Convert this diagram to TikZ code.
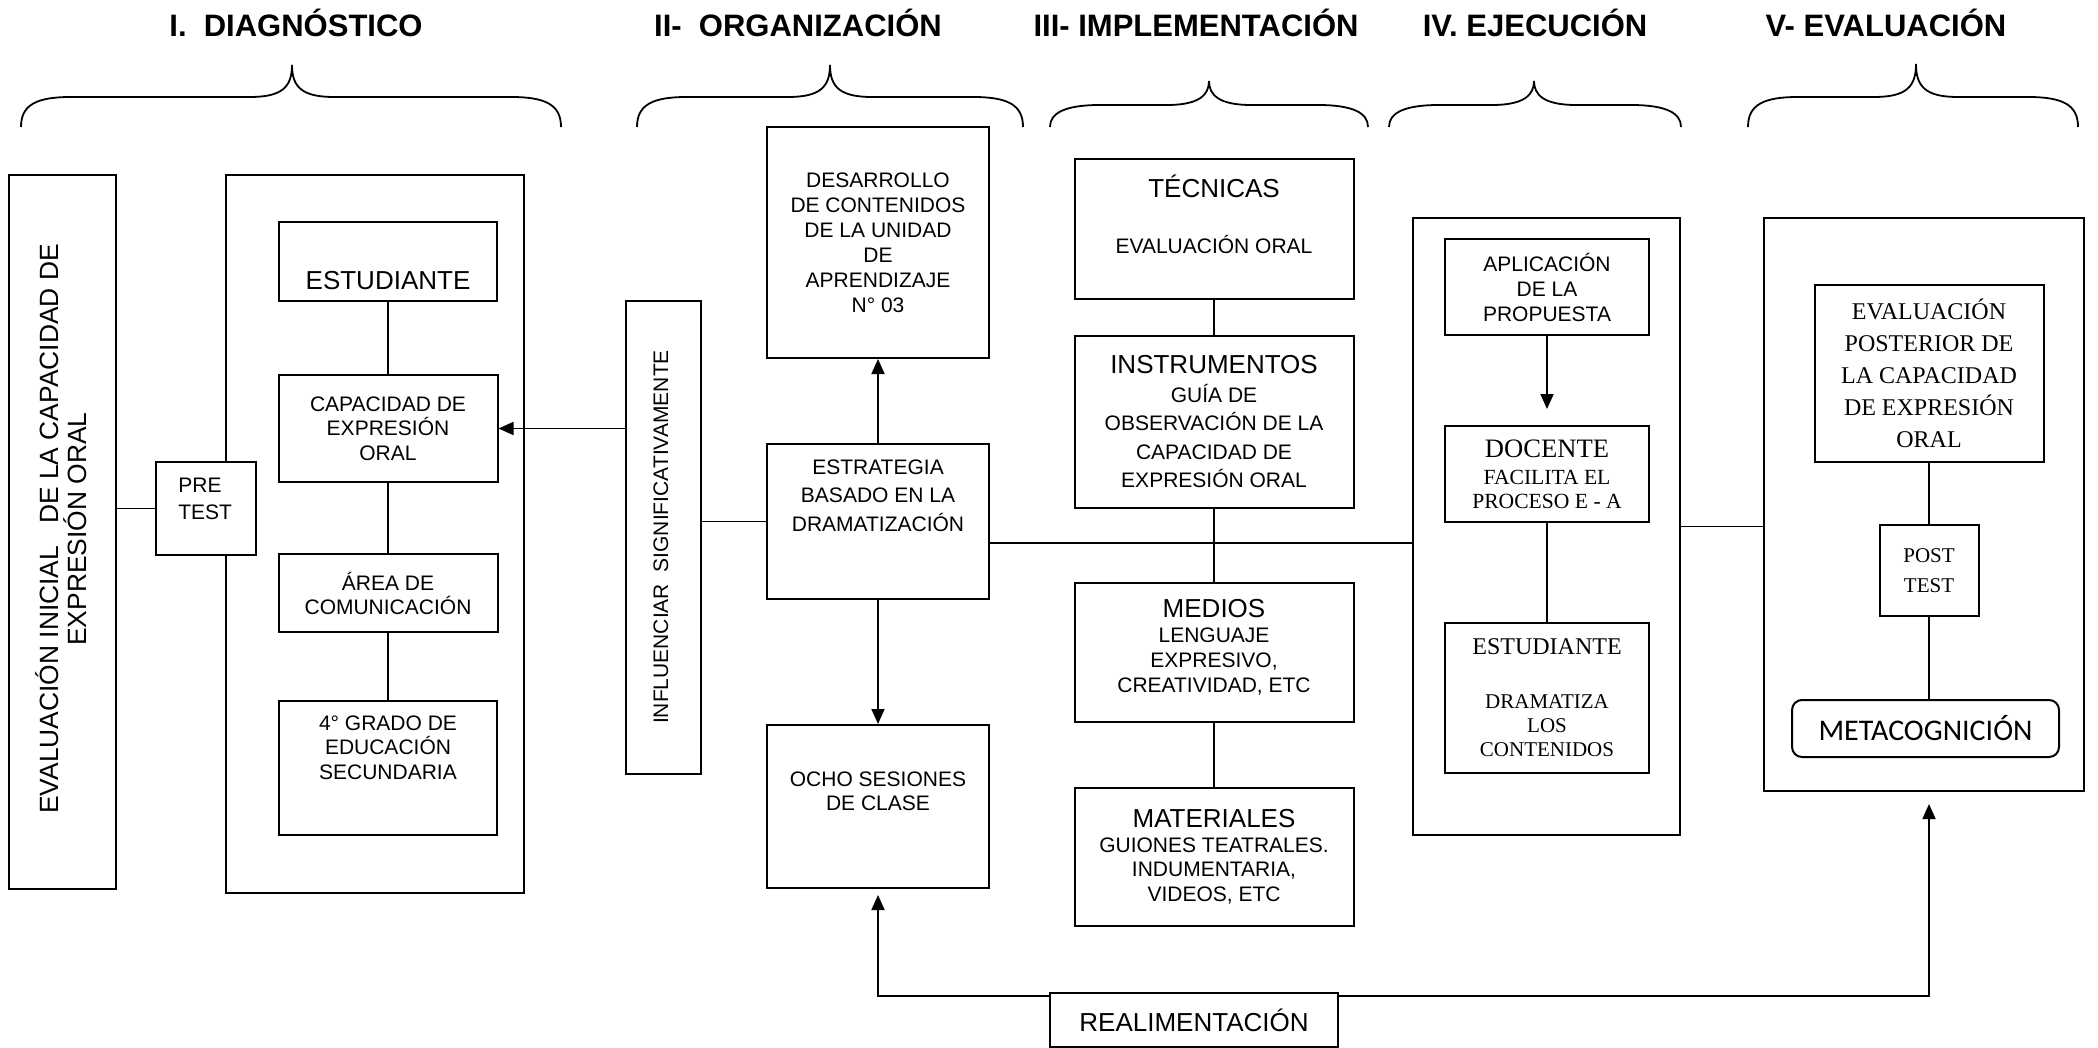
\documentclass[tikz,border=0pt]{standalone}
\usepackage{fontspec}
\setmainfont{Liberation Sans}
\newfontfamily\dgserif{Liberation Serif}
\newfontfamily\dgcalibri{Carlito}
\usetikzlibrary{arrows.meta,calc}
\tikzset{
  dgbox/.style={draw=black, line width=1pt, fill=white, inner sep=0pt, align=center, font=\fontsize{10.5}{12.5}\selectfont},
  dgtext/.style={inner sep=0pt, align=center, font=\fontsize{10.5}{12.5}\selectfont},
  dgtitle/.style={anchor=base, inner sep=0pt, font=\bfseries\fontsize{15.5}{18}\selectfont},
  dgline/.style={line width=0.9pt, draw=black},
  dgarrow/.style={line width=0.9pt, draw=black, -{Triangle[length=7.5pt,width=6.5pt]}},
  dgbrace/.style={line width=0.9pt, draw=black},
}
\newcommand{\phasebrace}[5]{%
  \draw[dgbrace] (#1,127) .. controls (#1,#5+8) and (#1+15,#5) .. (#1+50,#5)
    -- (#2-42,#5) .. controls (#2-10,#5) and (#2,#5-10) .. (#2,#4)
    .. controls (#2,#5-10) and (#2+10,#5) .. (#2+42,#5)
    -- (#3-50,#5) .. controls (#3-15,#5) and (#3,#5+8) .. (#3,127);}

\begin{document}
\begin{tikzpicture}[x=0.5pt,y=-0.5pt]
\useasboundingbox (0,0) rectangle (2098,1048);

\node[dgtitle] (tdiag) at (296,37) {I.\ \ DIAGNÓSTICO};
\node[dgtitle] (torg) at (798,37) {II-\ \ ORGANIZACIÓN};
\node[dgtitle] (timp) at (1196,37) {III- IMPLEMENTACIÓN};
\node[dgtitle] (teje) at (1535,37) {IV. EJECUCIÓN};
\node[dgtitle] (teva) at (1886,37) {V- EVALUACIÓN};

\phasebrace{21}{292}{561}{65}{97}
\phasebrace{637}{830}{1023}{65}{97}
\phasebrace{1050}{1209}{1368}{81}{105}
\phasebrace{1389}{1534}{1681}{81}{105}
\phasebrace{1748}{1916}{2078}{64}{97}

\node[dgbox, minimum width=53.5pt, minimum height=357pt] (evalini) at (62.5,532) {};
\node[dgtext, rotate=90, font=\fontsize{13.2}{14}\selectfont] (evalinit) at (61,529)
  {EVALUACIÓN INICIAL\ \ \ DE LA CAPACIDAD DE\\EXPRESIÓN ORAL};
\node[dgbox, minimum width=149pt, minimum height=359pt] (diag) at (375,534) {};
\node[dgbox, minimum width=109pt, minimum height=39.5pt] (estI) at (388,261.5) {};
\node[dgtext, font=\fontsize{13}{15}\selectfont] (estIt) at (388,281) {ESTUDIANTE};
\node[dgbox, minimum width=109.5pt, minimum height=53.5pt, font=\fontsize{10.5}{12.25}\selectfont] (capI) at (388,428.5) {CAPACIDAD DE\\EXPRESIÓN\\ORAL};
\node[dgbox, minimum width=109.5pt, minimum height=39pt, font=\fontsize{10.5}{12}\selectfont] (areaI) at (388,593) {ÁREA DE\\COMUNICACIÓN};
\node[dgbox, minimum width=109pt, minimum height=67pt] (gradoI) at (388,768) {};
\node[dgtext, font=\fontsize{10.5}{12.25}\selectfont] (gradoIt) at (388,747.5) {4° GRADO DE\\EDUCACIÓN\\SECUNDARIA};
\node[dgbox, minimum width=50pt, minimum height=46.5pt] (pretest) at (206,508.5) {};
\node[dgtext, align=left, anchor=west, font=\fontsize{10.5}{13.5}\selectfont] (pretestt) at (178,498.5) {PRE\\TEST};
\draw[dgline] (estI) -- (capI);
\draw[dgline] (capI) -- (areaI);
\draw[dgline] (areaI) -- (gradoI);
\draw[dgline] (evalini.east |- pretest.west) -- (pretest.west);

\node[dgbox, minimum width=37.5pt, minimum height=236.5pt] (influ) at (663.5,537.5) {};
\node[dgtext, rotate=90, font=\fontsize{10.5}{12}\selectfont] (influt) at (661,537) {INFLUENCIAR\ \ SIGNIFICATIVAMENTE};
\node[dgbox, minimum width=111pt, minimum height=115.5pt] (desarrollo) at (878,242.5)
  {DESARROLLO\\DE CONTENIDOS\\DE LA UNIDAD\\DE\\APRENDIZAJE\\N° 03};
\node[dgbox, minimum width=111pt, minimum height=77.5pt] (estrategia) at (878,521.5) {};
\node[dgtext, font=\fontsize{10.5}{14.25}\selectfont] (estrategiat) at (878,495.5) {ESTRATEGIA\\BASADO EN LA\\DRAMATIZACIÓN};
\node[dgbox, minimum width=111pt, minimum height=81.5pt] (ocho) at (878,806.5) {};
\node[dgtext, font=\fontsize{10.5}{12}\selectfont] (ochot) at (878,791) {OCHO SESIONES\\DE CLASE};
\draw[dgarrow] (influ.west |- capI.east) -- (capI.east);
\draw[dgline] (influ.east |- estrategia.west) -- (estrategia.west);
\draw[dgarrow] (estrategia) -- (desarrollo);
\draw[dgarrow] (estrategia) -- (ocho);

\node[dgbox, minimum width=139.5pt, minimum height=70pt] (tecnicas) at (1214,229) {};
\node[dgtext, font=\fontsize{13}{15}\selectfont] (tecnicast) at (1214,186) {TÉCNICAS};
\node[dgtext] (tecnicasd) at (1214,244) {EVALUACIÓN ORAL};
\node[dgbox, minimum width=139.5pt, minimum height=86pt, font=\fontsize{10.5}{14.25}\selectfont] (instrumentos) at (1214,422)
  {{\fontsize{13}{15}\selectfont INSTRUMENTOS}\\GUÍA DE\\OBSERVACIÓN DE LA\\CAPACIDAD DE\\EXPRESIÓN ORAL};
\node[dgbox, minimum width=139.5pt, minimum height=69.5pt] (medios) at (1214,652.5) {};
\node[dgtext] (mediost) at (1214,647)
  {{\fontsize{13}{15}\selectfont MEDIOS}\\LENGUAJE\\EXPRESIVO,\\CREATIVIDAD, ETC};
\node[dgbox, minimum width=139.5pt, minimum height=69pt, font=\fontsize{10.5}{12.25}\selectfont] (materiales) at (1214,857)
  {{\fontsize{13}{15}\selectfont MATERIALES}\\GUIONES TEATRALES.\\INDUMENTARIA,\\VIDEOS, ETC};
\draw[dgline] (tecnicas) -- (instrumentos);
\draw[dgline] (instrumentos) -- (medios);
\draw[dgline] (medios) -- (materiales);
\node[dgbox, minimum width=144pt, minimum height=27pt, font=\fontsize{13}{15}\selectfont] (realim) at (1194,1020) {REALIMENTACIÓN};

\node[dgbox, minimum width=133.5pt, minimum height=308.5pt] (ejec) at (1546.5,526.5) {};
\node[dgbox, minimum width=102pt, minimum height=48pt] (aplic) at (1547,287) {APLICACIÓN\\DE LA\\PROPUESTA};
\node[dgbox, minimum width=102pt, minimum height=48pt, font=\dgserif\fontsize{10.8}{12}\selectfont] (docente) at (1547,474)
  {{\fontsize{13.3}{15}\selectfont DOCENTE}\\[1.5pt]FACILITA EL\\PROCESO E - A};
\node[dgbox, minimum width=102pt, minimum height=75pt, font=\dgserif\fontsize{10.5}{12}\selectfont] (estII) at (1547,698)
  {{\fontsize{12}{14}\selectfont ESTUDIANTE}\\[15pt]DRAMATIZA\\LOS\\CONTENIDOS};
\draw[dgarrow, shorten >=8pt] (aplic) -- (docente);
\draw[dgline] (docente) -- (estII);
\draw[dgline] ($(estrategia.east)+(0,21.5)$) coordinate (orgout) -- (orgout -| ejec.west);

\node[dgbox, minimum width=160pt, minimum height=286.5pt] (evalbox) at (1924,504.5) {};
\node[dgbox, minimum width=114.5pt, minimum height=88.5pt, font=\dgserif\fontsize{12}{16}\selectfont] (posterior) at (1929,373.5)
  {EVALUACIÓN\\POSTERIOR DE\\LA CAPACIDAD\\DE EXPRESIÓN\\ORAL};
\node[dgbox, minimum width=49.5pt, minimum height=45.5pt, font=\dgserif\fontsize{10.5}{15}\selectfont] (posttest) at (1929,570.5) {POST\\TEST};
\node[dgbox, rounded corners=5pt, minimum width=133.5pt, minimum height=28.5pt, font=\dgcalibri\fontsize{15}{18}\selectfont] (metacog) at (1925.5,728.5) {METACOGNICIÓN};
\draw[dgline] (ejec.east) -- (ejec.east -| evalbox.west);
\draw[dgline] (posterior) -- (posttest);
\draw[dgline] (posttest.south) -- (posttest.south |- metacog.north);

\draw[dgarrow, shorten >=3pt] ($(realim.north west)+(0,4)$) -| (ocho.south);
\draw[dgarrow, shorten >=6pt] ($(realim.north east)+(0,4)$) -| (posttest |- evalbox.south);
\end{tikzpicture}
\end{document}
